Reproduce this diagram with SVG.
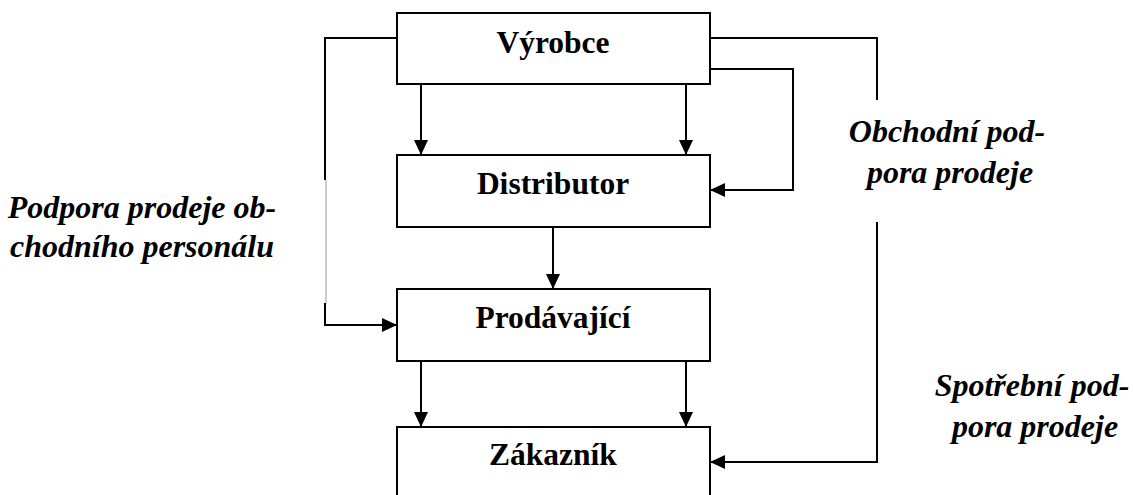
<svg xmlns="http://www.w3.org/2000/svg" width="1133" height="495" viewBox="0 0 1133 495">
<style>
.box{fill:#fff;stroke:#000;stroke-width:2}
.lbl{font-family:'Liberation Serif','Times New Roman','DejaVu Serif',serif;font-weight:bold;font-size:31.5px;text-anchor:middle;fill:#000}
.it{font-family:'Liberation Serif','Times New Roman','DejaVu Serif',serif;font-weight:bold;font-style:italic;font-size:32px;text-anchor:middle;fill:#000}
.ln{fill:none;stroke:#000;stroke-width:2}
</style>
<defs>
<marker id="ah" markerWidth="15" markerHeight="14" refX="15" refY="7" orient="auto" markerUnits="userSpaceOnUse">
<path d="M0,0 L15,7 L0,14 Z" fill="#000"/>
</marker>
</defs>
<rect width="1133" height="495" fill="#fff"/>
<g id="connectors">
<path class="ln" d="M421,84 V155" marker-end="url(#ah)"/>
<path class="ln" d="M686,84 V155" marker-end="url(#ah)"/>
<path class="ln" d="M553,227 V289" marker-end="url(#ah)"/>
<path class="ln" d="M421,361 V427" marker-end="url(#ah)"/>
<path class="ln" d="M686,361 V427" marker-end="url(#ah)"/>
<path class="ln" d="M397,38 H325 V180"/>
<path d="M326,180 V303" fill="none" stroke="#aaa" stroke-width="1.2"/>
<path class="ln" d="M325,303 V325 H397" marker-end="url(#ah)"/>
<path class="ln" d="M710,38 H877 V100"/>
<path class="ln" d="M710,69 H793 V190 H710" marker-end="url(#ah)"/>
<path class="ln" d="M877,222 V462 H710" marker-end="url(#ah)"/>
</g>
<g id="vyrobce">
<rect class="box" x="397" y="13" width="313" height="71"/>
<text class="lbl" x="553" y="53" font-family="Liberation Serif, serif">Výrobce</text>
</g>
<g id="distributor">
<rect class="box" x="397" y="155" width="313" height="72"/>
<text class="lbl" x="553" y="194">Distributor</text>
</g>
<g id="prodavajici">
<rect class="box" x="397" y="289" width="313" height="72"/>
<text class="lbl" x="553" y="328">Prodávající</text>
</g>
<g id="zakaznik">
<rect class="box" x="397" y="427" width="313" height="80"/>
<text class="lbl" x="553" y="465">Zákazník</text>
</g>
<g id="label-left">
<text class="it" x="142" y="218">Podpora prodeje ob-</text>
<text class="it" x="142" y="257">chodního personálu</text>
</g>
<g id="label-obchodni">
<text class="it" x="947" y="142">Obchodní pod-</text>
<text class="it" x="950" y="183">pora prodeje</text>
</g>
<g id="label-spotrebni">
<text class="it" x="1032" y="396">Spotřební pod-</text>
<text class="it" x="1035" y="437">pora prodeje</text>
</g>
</svg>
